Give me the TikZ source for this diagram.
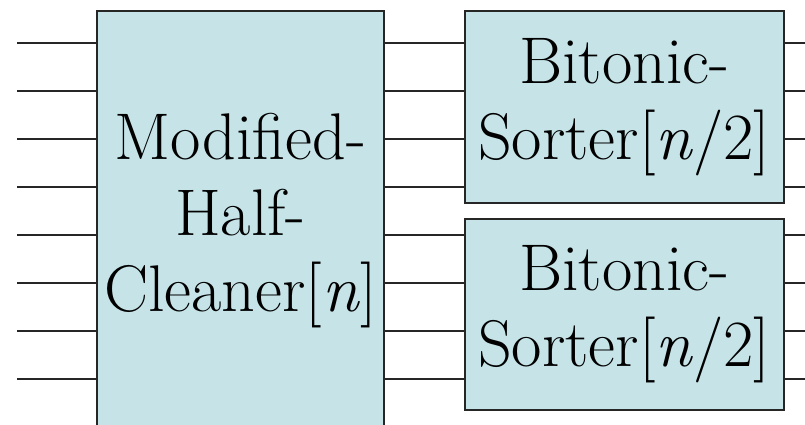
\documentclass[tikz,border=0pt]{standalone}
\usepackage{fontspec}
\definecolor{boxfill}{RGB}{198,228,232}
\tikzset{
	netbox/.style={draw=black!85, line width=1pt, fill=boxfill, rectangle, inner sep=0pt, align=center,
		font=\fontsize{33pt}{38pt}\selectfont},
	wire/.style={draw=black!85, line width=0.8pt}
}
\begin{document}
\begin{tikzpicture}[x=0.5pt, y=-0.5pt]
		\clip (0,0) rectangle (805,424);
		\node (hc) [netbox, minimum width=143.5pt, minimum height=209.5pt] at (240.5,220.5) {Modified-\\Half-\\Cleaner[\textit{n}]};
		\node (bs1) [netbox, minimum width=159.25pt, minimum height=95.75pt] at (624.25,106.75) {Bitonic-\\Sorter[\textit{n}/2]};
		\node (bs2) [netbox, minimum width=159.25pt, minimum height=95.5pt] at (624.25,314.5) {Bitonic-\\Sorter[\textit{n}/2]};

		% wire ends
		\coordinate (in1) at (17,43);
		\coordinate (in2) at (17,91);
		\coordinate (in3) at (17,139);
		\coordinate (in4) at (17,187);
		\coordinate (in5) at (17,235);
		\coordinate (in6) at (17,283);
		\coordinate (in7) at (17,331);
		\coordinate (in8) at (17,379);
		\coordinate (out1) at (805,43);
		\coordinate (out2) at (805,91);
		\coordinate (out3) at (805,139);
		\coordinate (out4) at (805,187);
		\coordinate (out5) at (805,235);
		\coordinate (out6) at (805,283);
		\coordinate (out7) at (805,331);
		\coordinate (out8) at (805,379);

		% Wires
		\draw[wire] (in1) -- (in1 -| hc.west);
		\draw[wire] (in2) -- (in2 -| hc.west);
		\draw[wire] (in3) -- (in3 -| hc.west);
		\draw[wire] (in4) -- (in4 -| hc.west);
		\draw[wire] (in5) -- (in5 -| hc.west);
		\draw[wire] (in6) -- (in6 -| hc.west);
		\draw[wire] (in7) -- (in7 -| hc.west);
		\draw[wire] (in8) -- (in8 -| hc.west);
		\draw[wire] (hc.east |- in1) -- (bs1.west |- in1);
		\draw[wire] (hc.east |- in2) -- (bs1.west |- in2);
		\draw[wire] (hc.east |- in3) -- (bs1.west |- in3);
		\draw[wire] (hc.east |- in4) -- (bs1.west |- in4);
		\draw[wire] (hc.east |- in5) -- (bs2.west |- in5);
		\draw[wire] (hc.east |- in6) -- (bs2.west |- in6);
		\draw[wire] (hc.east |- in7) -- (bs2.west |- in7);
		\draw[wire] (hc.east |- in8) -- (bs2.west |- in8);
		\draw[wire] (bs1.east |- out1) -- (out1);
		\draw[wire] (bs1.east |- out2) -- (out2);
		\draw[wire] (bs1.east |- out3) -- (out3);
		\draw[wire] (bs1.east |- out4) -- (out4);
		\draw[wire] (bs2.east |- out5) -- (out5);
		\draw[wire] (bs2.east |- out6) -- (out6);
		\draw[wire] (bs2.east |- out7) -- (out7);
		\draw[wire] (bs2.east |- out8) -- (out8);
	\end{tikzpicture}
\end{document}
